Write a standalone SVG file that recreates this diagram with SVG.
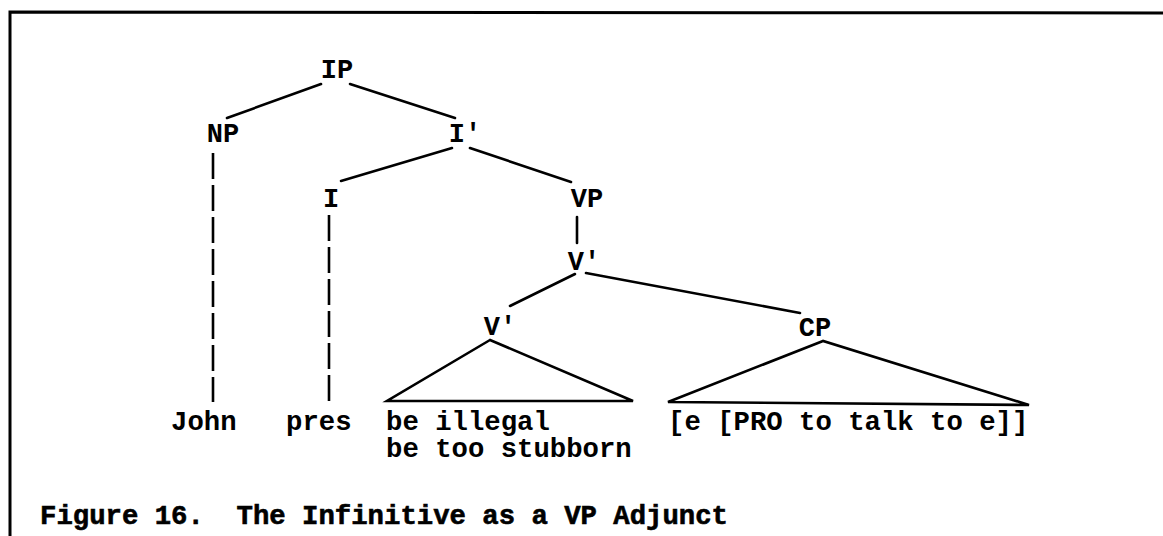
<svg xmlns="http://www.w3.org/2000/svg" width="1163" height="536" viewBox="0 0 1163 536">
<style>
  .lbl { font-family: "Liberation Mono", "DejaVu Sans Mono", monospace; font-size: 27px; font-weight: bold; fill: #000; text-anchor: middle; }
  .leaf { font-family: "Liberation Mono", "DejaVu Sans Mono", monospace; font-size: 27.3px; font-weight: bold; fill: #000; white-space: pre; }
  .cap { font-family: "Liberation Mono", "DejaVu Sans Mono", monospace; font-size: 27.3px; font-weight: bold; fill: #000; white-space: pre; stroke: #000; stroke-width: 0.6; }
  .ln { stroke: #000; stroke-width: 2.6; fill: none; stroke-linecap: round; }
  .dash { stroke: #000; stroke-width: 2.6; fill: none; stroke-dasharray: 26 6; }
  .frame { stroke: #000; stroke-width: 3; fill: none; }
</style>
<rect width="1163" height="536" fill="#fff"/>
<g id="frame">
  <polyline class="frame" points="10,536 10,12 1163,13"/>
</g>
<g id="connectors">
  <line class="ln" x1="321" y1="84" x2="227" y2="118"/>
  <line class="ln" x1="350" y1="84" x2="455" y2="118"/>
  <line class="ln" x1="452" y1="148" x2="341" y2="181"/>
  <line class="ln" x1="470" y1="148" x2="571" y2="182"/>
  <line class="ln" x1="577" y1="217" x2="577" y2="243"/>
  <line class="ln" x1="575" y1="274" x2="510" y2="306"/>
  <line class="ln" x1="586" y1="273" x2="800" y2="313"/>
  <line class="dash" x1="213" y1="153" x2="213" y2="402"/>
  <line class="dash" x1="329" y1="215" x2="329" y2="402"/>
  <polygon class="ln" points="490,340 387,401 633,401"/>
  <polygon class="ln" points="823,341 668,402 1029,405"/>
</g>
<g id="n-IP"><text class="lbl" x="337" y="78">IP</text></g>
<g id="n-NP"><text class="lbl" x="223" y="142">NP</text></g>
<g id="n-Ibar"><text class="lbl" x="465" y="142">I'</text></g>
<g id="n-I"><text class="lbl" x="331" y="207">I</text></g>
<g id="n-VP"><text class="lbl" x="587" y="207">VP</text></g>
<g id="n-Vbar1"><text class="lbl" x="584" y="270">V'</text></g>
<g id="n-Vbar2"><text class="lbl" x="500" y="335">V'</text></g>
<g id="n-CP"><text class="lbl" x="815" y="336">CP</text></g>
<g id="n-John"><text class="leaf" x="171" y="430">John</text></g>
<g id="n-pres"><text class="leaf" x="286" y="430">pres</text></g>
<g id="n-vbar-yield"><text class="leaf" x="386" y="430">be illegal</text><text class="leaf" x="386" y="457">be too stubborn</text></g>
<g id="n-cp-yield"><text class="leaf" x="668" y="430">[e [PRO to talk to e]]</text></g>
<g id="caption"><text class="cap" x="40" y="524">Figure 16.  The Infinitive as a VP Adjunct</text></g>
</svg>
